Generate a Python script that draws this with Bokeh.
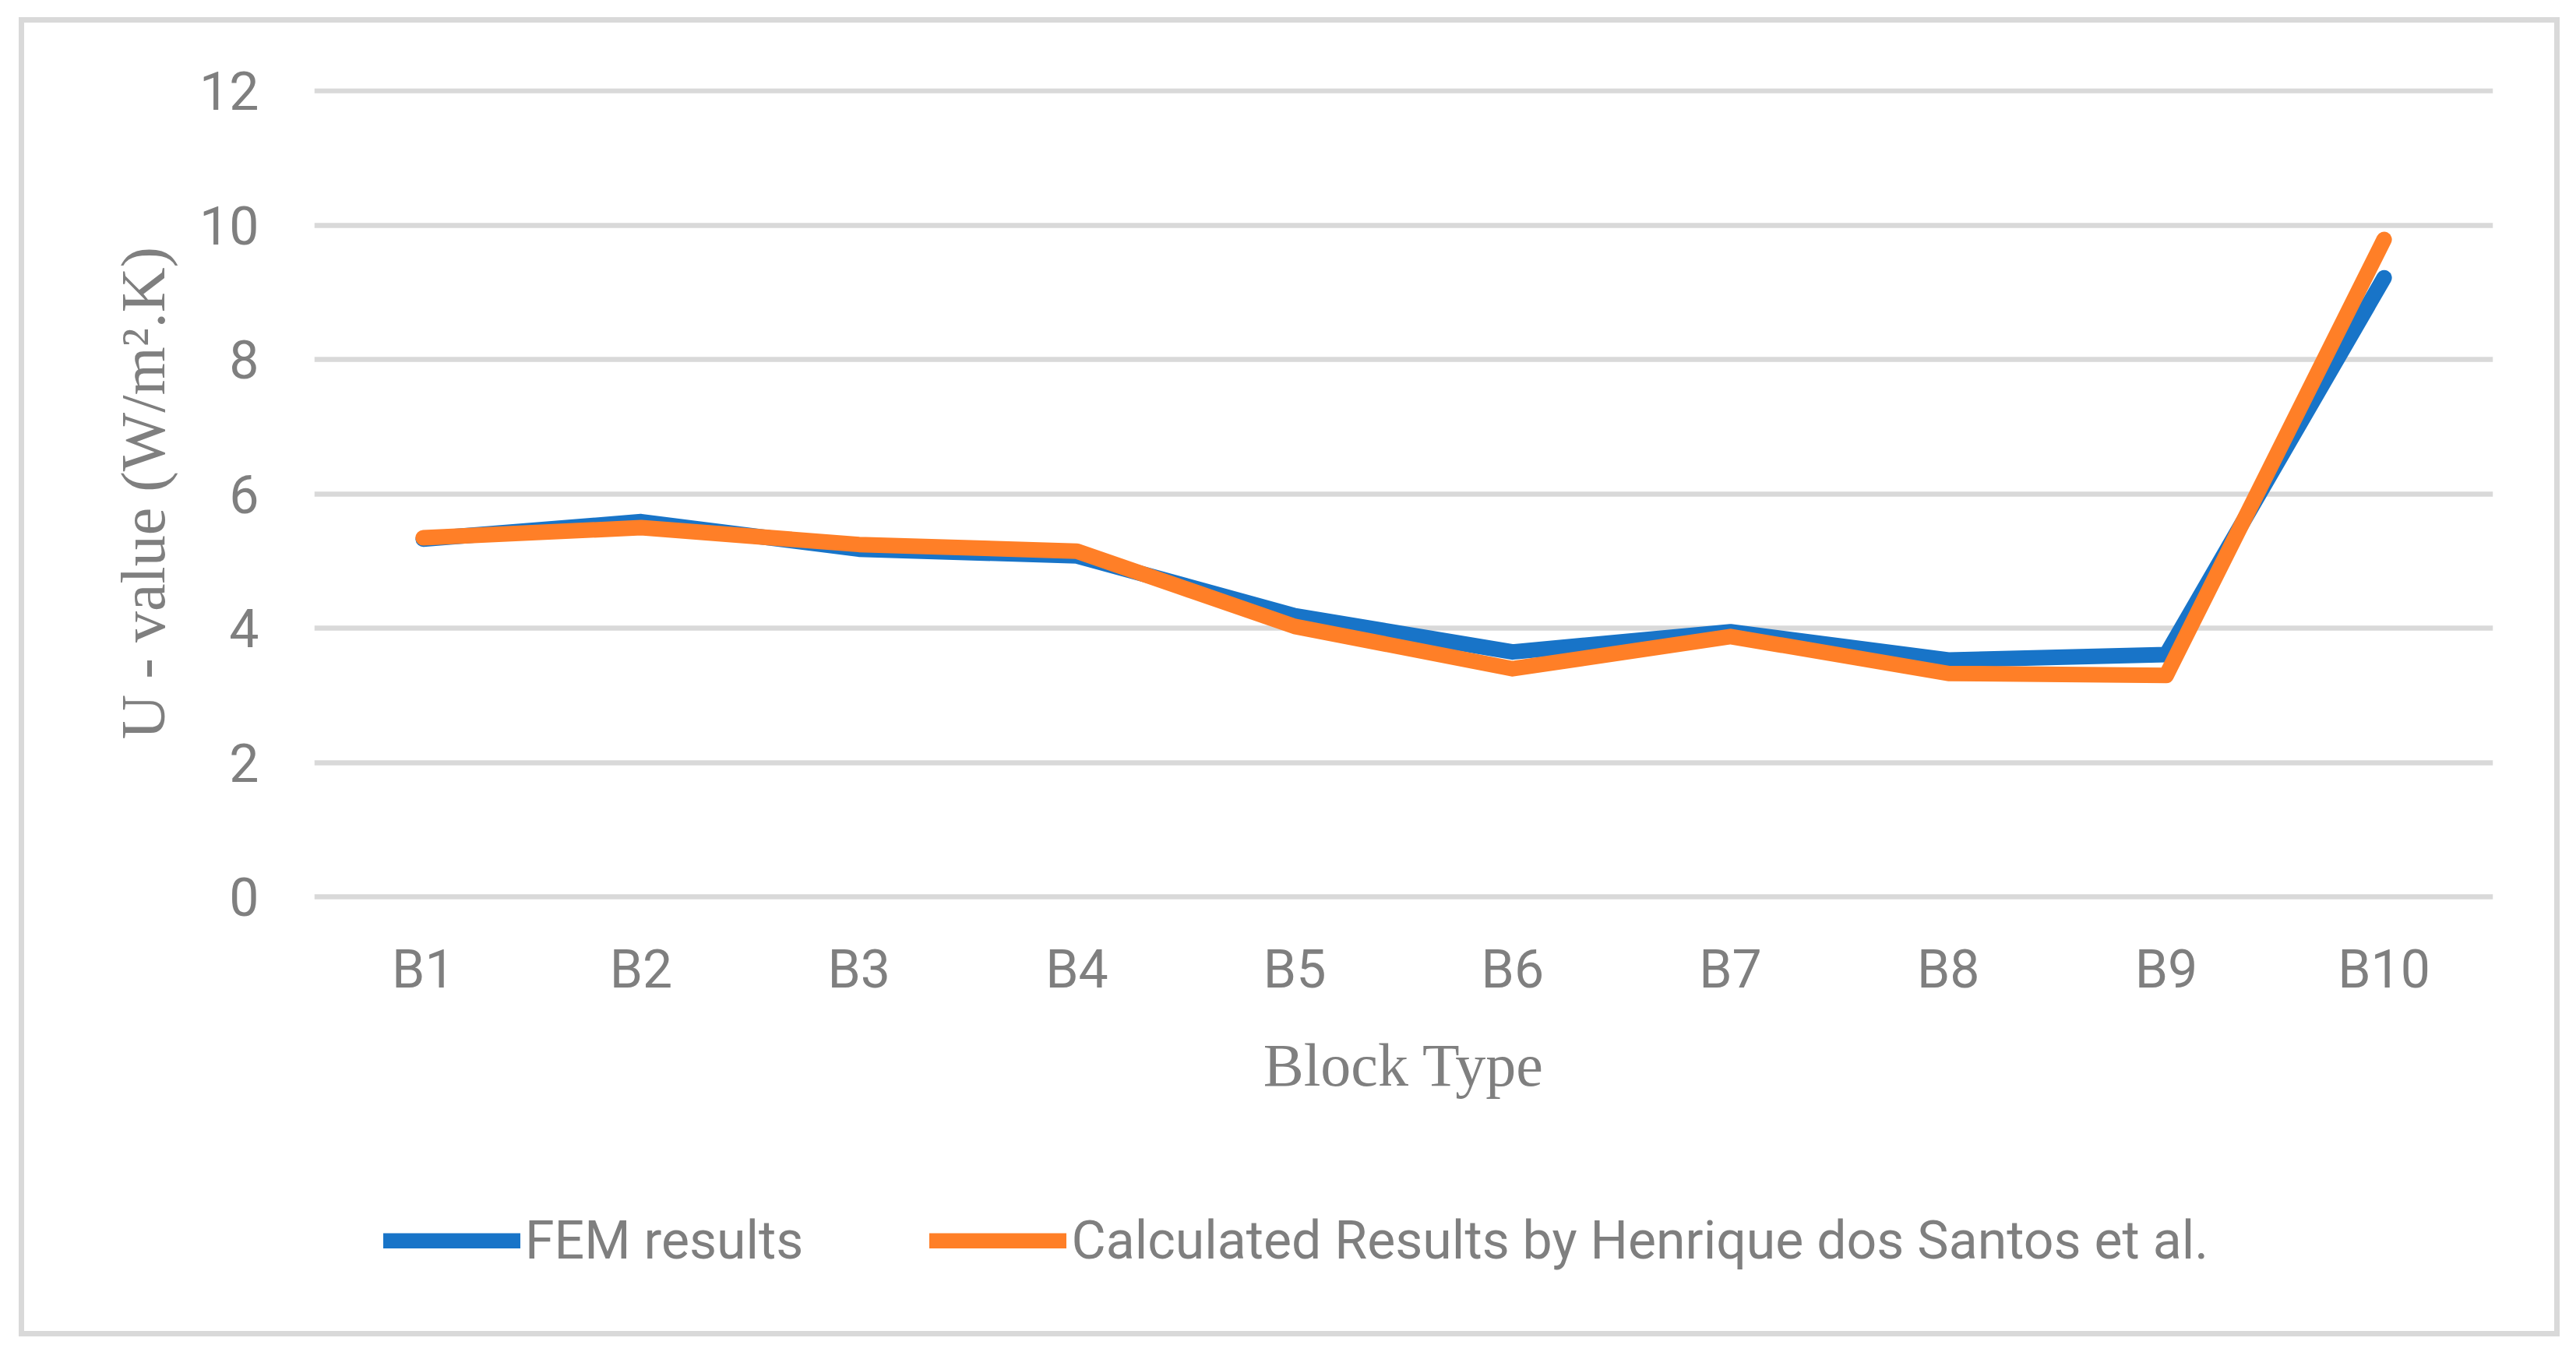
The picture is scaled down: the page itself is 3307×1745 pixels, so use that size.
from bokeh.plotting import figure
from bokeh.models import (FactorRange, Range1d, FixedTicker, Legend, LegendItem,
                          InlineStyleSheet, Title)
from bokeh.embed import file_html
from bokeh.resources import INLINE

# ---- data ----
categories = ["B1", "B2", "B3", "B4", "B5", "B6", "B7", "B8", "B9", "B10"]
fem_results = [5.33, 5.59, 5.18, 5.08, 4.19, 3.65, 3.95, 3.53, 3.61, 9.22]
calculated_results = [5.35, 5.50, 5.25, 5.15, 4.03, 3.40, 3.88, 3.33, 3.30, 9.79]
y_ticks = [0, 2, 4, 6, 8, 10, 12]
series_names = ["FEM results", "Calculated Results by Henrique dos Santos et al."]
x_title = "Block Type"
y_title = "U - value (W/m\u00b2.K)"

BLUE = "#1874C8"
ORANGE = "#FF7F27"
TEXT = "#7F7F7F"
GRID = "#D9D9D9"

W, H = 3307, 1740
TOP, BOTTOM = 113, 40
PX_PER_UNIT = 86.25
y_top = 12.04
y_bottom = y_top - (H - TOP - BOTTOM) / PX_PER_UNIT

p = figure(x_range=FactorRange(*categories, range_padding=0),
           y_range=Range1d(y_bottom, y_top),
           width=W, height=H,
           output_backend="svg", toolbar_location=None,
           min_border_left=403, min_border_right=107,
           min_border_top=TOP, min_border_bottom=BOTTOM)

border_css = InlineStyleSheet(css="""
:host::after {
  content: "";
  position: absolute;
  left: 24px; top: 22px;
  width: 3262px; height: 1694px;
  box-sizing: border-box;
  border: 7px solid #D9D9D9;
  pointer-events: none;
  z-index: 1000;
}
""")
p.stylesheets = [border_css]

p.outline_line_color = None
p.background_fill_color = "white"
p.border_fill_color = "white"

p.xgrid.visible = False
p.ygrid.grid_line_color = GRID
p.ygrid.grid_line_width = 6.5
p.ygrid.ticker = FixedTicker(ticks=y_ticks)

p.yaxis.ticker = FixedTicker(ticks=y_ticks)
p.yaxis.bounds = (0, 12)
p.xaxis.fixed_location = 0
for ax in (p.xaxis[0], p.yaxis[0]):
    ax.axis_line_color = None
    ax.major_tick_line_color = None
    ax.minor_tick_line_color = None
    ax.major_tick_out = 0
    ax.major_tick_in = 0
    ax.minor_tick_out = 0
    ax.minor_tick_in = 0
    ax.major_label_text_font = "Roboto"
    ax.major_label_text_font_size = "68px"
    ax.major_label_text_color = TEXT
    ax.axis_label_text_font = "Liberation Serif"
    ax.axis_label_text_font_size = "78px"
    ax.axis_label_text_font_style = "normal"
    ax.axis_label_text_color = TEXT

p.xaxis.axis_label = x_title
p.xaxis.major_label_standoff = 53
p.yaxis.major_label_standoff = 71
p.xaxis.axis_label_standoff = 36

# y-axis title, placed along the 0..12 span of the axis
y_label = Title(text=y_title, align="left", vertical_align="bottom",
                offset=751, standoff=52,
                text_font="Liberation Serif", text_font_size="80px",
                text_font_style="normal", text_color=TEXT)
p.add_layout(y_label, "left")

r1 = p.line(x=categories, y=fem_results, line_color=BLUE, line_width=20,
            line_cap="round", line_join="round")
r2 = p.line(x=categories, y=calculated_results, line_color=ORANGE, line_width=20,
            line_cap="round", line_join="round")

legend = Legend(items=[LegendItem(label=series_names[0], renderers=[r1]),
                       LegendItem(label=series_names[1], renderers=[r2])],
                orientation="horizontal", location=(89, 67),
                glyph_width=176, glyph_height=20, label_standoff=6,
                spacing=162, padding=0, margin=0,
                border_line_color=None, background_fill_alpha=0,
                label_text_font="Roboto", label_text_font_size="68px",
                label_text_color=TEXT)
p.add_layout(legend)

open("out.html", "w").write(file_html(p, INLINE))
